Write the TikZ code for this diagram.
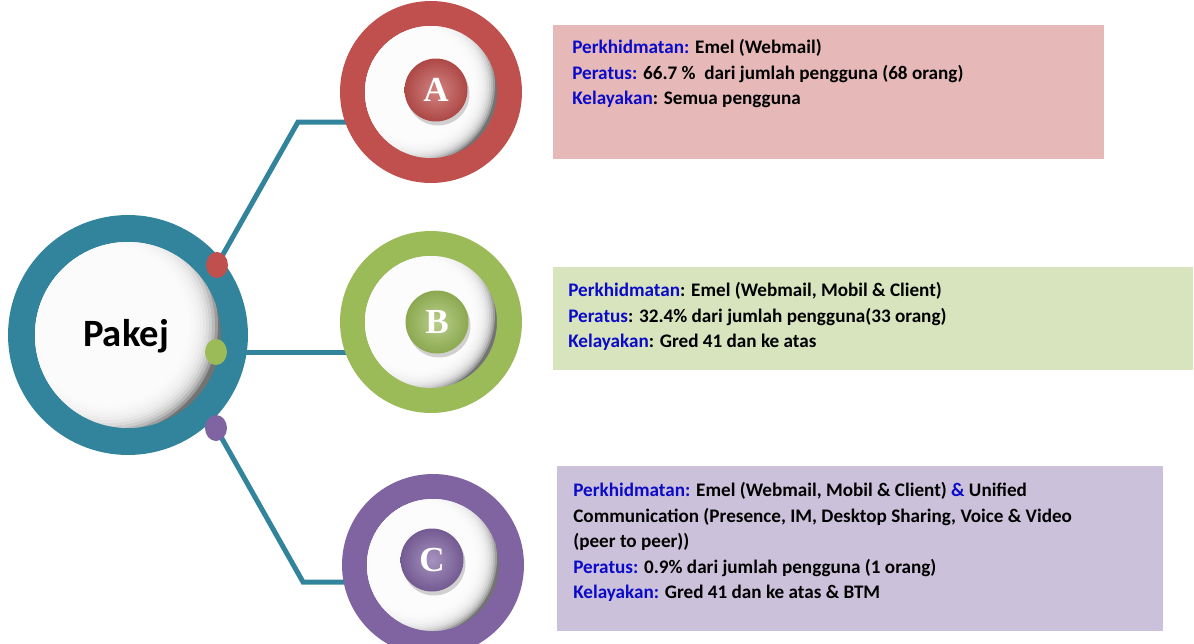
\documentclass[tikz,border=0pt]{standalone}
\usepackage{fontspec}
\setmainfont{Carlito}
\newfontfamily\letterfont{Liberation Serif}
\usetikzlibrary{shapes.geometric,shadows}

\definecolor{hubteal}{RGB}{49,132,155}
\definecolor{pakA}{RGB}{192,80,77}
\definecolor{pakB}{RGB}{155,187,89}
\definecolor{pakC}{RGB}{128,100,162}
\definecolor{boxA}{RGB}{230,185,184}
\definecolor{boxB}{RGB}{215,228,189}
\definecolor{boxC}{RGB}{204,193,218}
\definecolor{lblue}{RGB}{10,10,200}

\pgfdeclarelayer{background}
\pgfsetlayers{background,main}

\newcommand{\lbl}[1]{\textcolor{lblue}{#1}}

\begin{document}
\begin{tikzpicture}[x=0.02cm, y=-0.02cm,
  hub/.style = {circle, draw=hubteal, line width=0.54cm, minimum size=4.26cm, fill=black!55},
  ring/.style = {circle, draw=#1, line width=0.5cm, minimum size=3.14cm, fill=black!55},
  glow/.style = {white, opacity=0.3},
  knob/.style = {circle, minimum size=1.26cm, inner sep=0pt, inner color=#1!70!white, outer color=#1!90!black, text=white, font=\letterfont\bfseries\fontsize{20}{20}\selectfont, drop shadow={shadow xshift=0.4mm, shadow yshift=-0.8mm, opacity=0.35}},
  dot/.style = {ellipse, fill=#1, minimum width=0.44cm, minimum height=0.52cm, inner sep=0pt},
  link/.style = {draw=hubteal, line width=0.1cm},
  panel/.style = {rectangle, fill=#1, anchor=north west, inner sep=0pt},
  info/.style = {anchor=north west, align=left, inner sep=0pt, font=\bfseries\fontsize{10.9}{14.5}\selectfont}]
\useasboundingbox (0,0) rectangle (1194,643);

% centre
\node[hub] (pakej) at (128,335) {};
\begin{scope}
\clip (pakej.center) circle (93);
\foreach \r in {110,107,...,80}
  \fill[glow] ([shift={(-20,-10)}]pakej.center) circle (\r);
\end{scope}
\node[font=\bfseries\fontsize{22}{22}\selectfont] (pakejtxt) at (126,336) {Pakej};
\node[dot=pakA] (dotA) at (217,265) {};
\node[dot=pakB] (dotB) at (216,352) {};
\node[dot=pakC] (dotC) at (216,428) {};

% packages
\node[ring=pakA] (ringA) at (431,92) {};
\node[ring=pakB] (ringB) at (431,322) {};
\node[ring=pakC] (ringC) at (433,565) {};
\foreach \p in {ringA,ringB,ringC}{
  \begin{scope}
  \clip (\p.center) circle (66);
  \foreach \r in {78,76,...,56}
    \fill[glow] ([shift={(-14,-7)}]\p.center) circle (\r);
  \end{scope}
}
\node[knob=pakA] (knobA) at (436,90) {A};
\node[knob=pakB] (knobB) at (437,322) {B};
\node[knob=pakC] (knobC) at (432,560) {C};

\coordinate (bendA) at (298,122);
\coordinate (bendC) at (303,582);
\begin{pgfonlayer}{background}
\draw[link] (dotA.center) -- (bendA) -- (bendA -| ringA.center);
\draw[link] (dotB.center) -- (dotB -| ringB.center);
\draw[link] (dotC.center) -- (bendC) -- (bendC -| ringC.center);
\end{pgfonlayer}

% info boxes
\node[panel=boxA, minimum width=11.02cm, minimum height=2.68cm] (panelA) at (553,25) {};
\node[panel=boxB, minimum width=12.8cm, minimum height=2.06cm] (panelB) at (553,267) {};
\node[panel=boxC, minimum width=12.12cm, minimum height=3.3cm] (panelC) at (557,466) {};

\node[info] (infoA) at (572,39) {\lbl{Perkhidmatan:} Emel (Webmail)\\
\lbl{Peratus:} 66.7 \%\ \ dari jumlah pengguna (68 orang)\\
\lbl{Kelayakan}: Semua pengguna};
\node[info] (infoB) at (568,282) {\lbl{Perkhidmatan}: Emel (Webmail, Mobil \& Client)\\
\lbl{Peratus}: 32.4\% dari jumlah pengguna(33 orang)\\
\lbl{Kelayakan}: Gred 41 dan ke atas};
\node[info] (infoC) at (573,482) {\lbl{Perkhidmatan:} Emel (Webmail, Mobil \& Client) \lbl{\&} Unified\\
Communication (Presence, IM, Desktop Sharing, Voice \& Video\\
(peer to peer))\\
\lbl{Peratus:} 0.9\% dari jumlah pengguna (1 orang)\\
\lbl{Kelayakan:} Gred 41 dan ke atas \& BTM};
\end{tikzpicture}
\end{document}
